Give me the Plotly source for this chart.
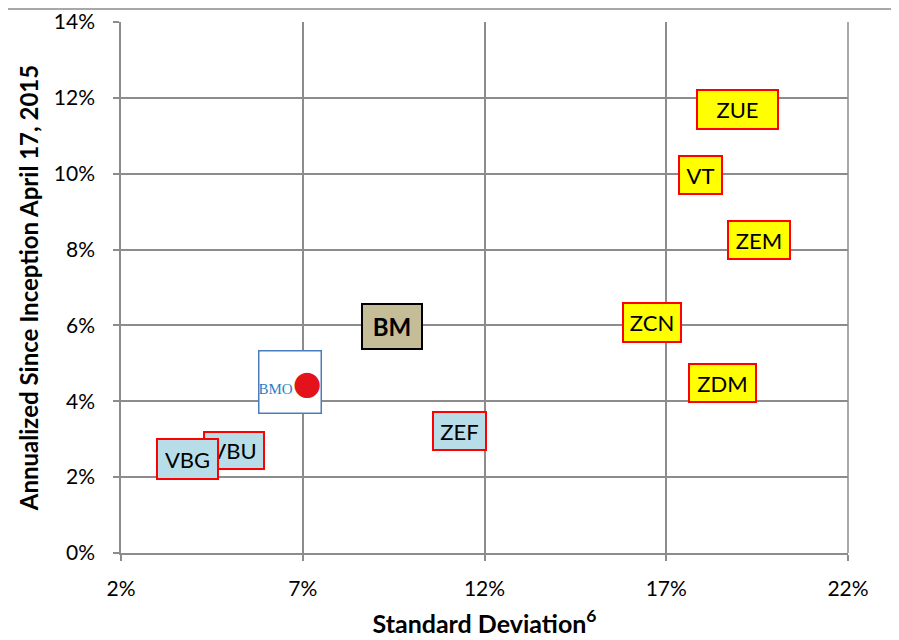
import plotly.graph_objects as go

# Data (standard deviation %, annualized return %)
funds = ["VBU", "VBG", "BMO", "BM", "ZEF", "ZCN", "ZDM", "ZEM", "VT", "ZUE"]
std_dev = [5.10, 3.84, 6.65, 9.46, 11.30, 16.61, 18.56, 19.55, 17.93, 18.97]
annual_return = [2.70, 2.48, 4.51, 5.96, 3.22, 6.09, 4.48, 8.25, 9.97, 11.70]

x_ticks = [2, 7, 12, 17, 22]
x_tick_labels = ["2%", "7%", "12%", "17%", "22%"]
y_ticks = [0, 2, 4, 6, 8, 10, 12, 14]
y_tick_labels = ["0%", "2%", "4%", "6%", "8%", "10%", "12%", "14%"]

# label styles
style = {
    "VBU": dict(bg="#b7dde8", border="red", w=62, h=39, bold=False, size=22),
    "VBG": dict(bg="#b7dde8", border="red", w=63, h=42, bold=False, size=22),
    "ZEF": dict(bg="#b7dde8", border="red", w=55, h=40, bold=False, size=22),
    "BM":  dict(bg="#c4bd97", border="black", w=62, h=47, bold=True, size=24),
    "ZCN": dict(bg="#ffff00", border="red", w=60, h=41, bold=False, size=22),
    "ZDM": dict(bg="#ffff00", border="red", w=69, h=40, bold=False, size=22),
    "ZEM": dict(bg="#ffff00", border="red", w=64, h=40, bold=False, size=22),
    "VT":  dict(bg="#ffff00", border="red", w=45, h=40, bold=False, size=22),
    "ZUE": dict(bg="#ffff00", border="red", w=83, h=41, bold=False, size=22),
}

FONT = "Lato, 'Open Sans', sans-serif"
GRID = "#8c8c8c"

fig = go.Figure()
fig.add_trace(go.Scatter(x=std_dev, y=annual_return, mode="markers",
                         marker=dict(size=4, color="rgba(0,0,0,0)"),
                         hoverinfo="skip", showlegend=False))

annotations = []
for name, xv, yv in zip(funds, std_dev, annual_return):
    if name == "BMO":
        annotations.append(dict(
            x=xv, y=yv, xref="x", yref="y", showarrow=False,
            text="<span style='font-family:Liberation Serif;color:#2a7fc4;font-size:15px'>BMO</span>"
                 "<span style='font-family:DejaVu Sans;color:#e3121b;font-size:33px'>●</span>",
            bgcolor="white", bordercolor="#4a7ebb", borderwidth=1.5, borderpad=0,
            width=61, height=61, font=dict(family=FONT, size=15)))
        continue
    s = style[name]
    txt = f"<b>{name}</b>" if s["bold"] else name
    annotations.append(dict(
        x=xv, y=yv, xref="x", yref="y", showarrow=False, text=txt,
        bgcolor=s["bg"], bordercolor=s["border"], borderwidth=2, borderpad=0,
        width=s["w"] - 4, height=s["h"] - 4,
        font=dict(family=FONT, size=s["size"], color="black")))

fig.update_layout(
    width=891, height=630,
    margin=dict(l=113, r=51, t=14, b=85, autoexpand=False),
    paper_bgcolor="white", plot_bgcolor="white",
    font=dict(family=FONT, color="black"),
    annotations=annotations,
    xaxis=dict(range=[2, 22], tickvals=x_ticks, ticktext=x_tick_labels,
               automargin=False,
               showgrid=True, gridcolor=GRID, gridwidth=1.5,
               showline=True, linecolor=GRID, linewidth=1.5,
               ticks="outside", ticklen=6, tickcolor=GRID, tickwidth=1.5,
               tickfont=dict(size=21, family=FONT), ticklabelstandoff=10,
               zeroline=False,
               title=dict(text="<b>Standard Deviation<sup>6</sup></b>",
                          font=dict(size=25, family=FONT), standoff=18)),
    yaxis=dict(range=[0, 14], tickvals=y_ticks, ticktext=y_tick_labels,
               automargin=False,
               showgrid=True, gridcolor=GRID, gridwidth=1.5,
               showline=True, linecolor=GRID, linewidth=1.5,
               ticks="outside", ticklen=6, tickcolor=GRID, tickwidth=1.5,
               tickfont=dict(size=21, family=FONT), ticklabelstandoff=14,
               zeroline=False,
               title=dict(text="<b>Annualized Since Inception April 17, 2015</b>",
                          font=dict(size=24, family=FONT), standoff=8)),
    shapes=[
        dict(type="rect", xref="paper", yref="paper", x0=-0.3, x1=1.0674,
             y0=-0.3, y1=1.0245, line=dict(color=GRID, width=1.5),
             layer="below"),
        dict(type="line", xref="paper", yref="y", x0=1.0, x1=1.0,
             y0=0, y1=14, line=dict(color=GRID, width=1.5)),
    ],
)

fig.write_html("out.html")
